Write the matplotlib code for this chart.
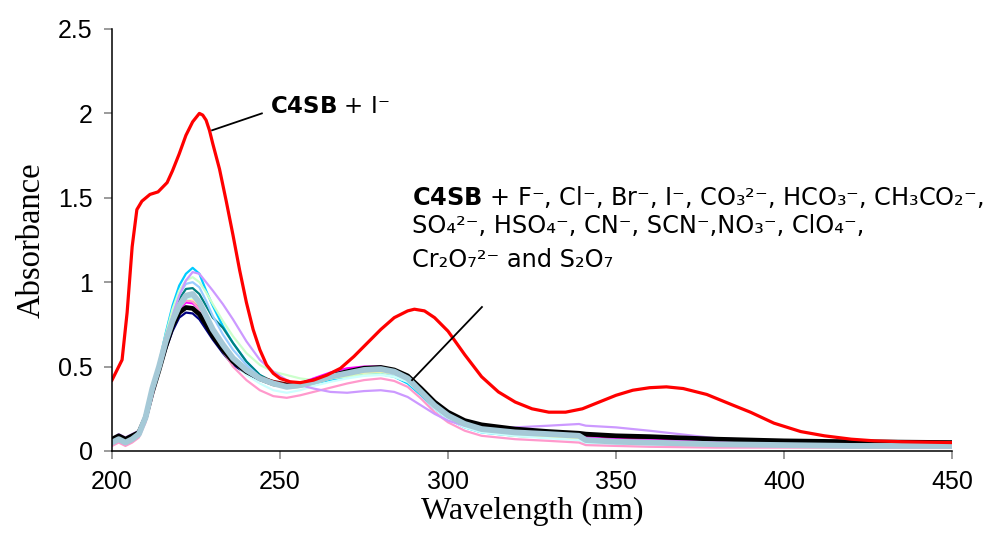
import matplotlib
matplotlib.use("Agg")
import matplotlib.pyplot as plt

plt.rcParams['mathtext.fontset'] = 'dejavusans'

# ---------------- data ----------------
wl_red = [200, 203, 204.5, 206, 207.4, 208.9, 211.3, 213.7, 216.4, 218, 220, 222, 224, 226,
          227, 228, 229, 230, 232, 234, 236, 238, 240, 242, 244, 246, 248, 250, 253, 256, 260, 264, 268,
          272, 276, 280, 284, 288, 290, 293, 296, 300, 305, 310, 315, 320, 325, 330, 335,
          340, 345, 350, 355, 360, 365, 370, 377, 385, 390, 397, 405, 412, 420, 427, 435, 444, 450]
abs_red = [0.42, 0.54, 0.82, 1.21, 1.43, 1.48, 1.52, 1.535, 1.59, 1.66, 1.76, 1.87, 1.95, 2.0,
           1.99, 1.96, 1.90, 1.82, 1.67, 1.48, 1.28, 1.07, 0.88, 0.72, 0.60, 0.51, 0.46, 0.43, 0.41, 0.405, 0.42, 0.45, 0.49,
           0.56, 0.64, 0.72, 0.79, 0.83, 0.84, 0.83, 0.79, 0.71, 0.57, 0.44, 0.35, 0.29, 0.25, 0.23, 0.23,
           0.25, 0.29, 0.33, 0.36, 0.375, 0.38, 0.37, 0.335, 0.27, 0.23, 0.165, 0.115, 0.09, 0.07, 0.06, 0.055, 0.052, 0.05]

wl = [200, 202, 204, 206, 208, 210, 212, 214, 216, 218, 220, 222, 224, 226, 228, 230, 233,
      236, 240, 244, 248, 252, 256, 260, 265, 270, 275, 280, 284, 288, 292, 296, 300, 305,
      310, 320, 330, 339, 341, 350, 360, 380, 400, 420, 450]

abs_navy = [0.06, 0.08, 0.06, 0.08, 0.10, 0.19, 0.34, 0.47, 0.60, 0.71, 0.79, 0.82, 0.815, 0.78, 0.72, 0.66, 0.58,
            0.51, 0.46, 0.42, 0.39, 0.38, 0.39, 0.41, 0.44, 0.465, 0.48, 0.485, 0.47, 0.435, 0.36, 0.28, 0.22, 0.17,
            0.14, 0.115, 0.10, 0.09, 0.07, 0.06, 0.055, 0.045, 0.04, 0.035, 0.035]
abs_cyan = [0.04, 0.06, 0.04, 0.06, 0.09, 0.19, 0.35, 0.52, 0.70, 0.86, 0.98, 1.05, 1.085, 1.05, 0.95, 0.86, 0.74,
            0.64, 0.53, 0.45, 0.40, 0.375, 0.38, 0.40, 0.42, 0.44, 0.45, 0.455, 0.44, 0.40, 0.33, 0.25, 0.19, 0.14,
            0.11, 0.09, 0.08, 0.07, 0.05, 0.045, 0.04, 0.035, 0.03, 0.025, 0.025]
abs_purple = [0.07, 0.10, 0.08, 0.10, 0.12, 0.20, 0.34, 0.49, 0.65, 0.80, 0.92, 1.01, 1.06, 1.05, 1.0, 0.95, 0.87,
              0.78, 0.65, 0.54, 0.47, 0.42, 0.39, 0.37, 0.35, 0.345, 0.355, 0.36, 0.35, 0.32, 0.27, 0.22, 0.18, 0.15,
              0.14, 0.14, 0.15, 0.16, 0.15, 0.14, 0.12, 0.075, 0.06, 0.05, 0.045]
abs_teal = [0.05, 0.07, 0.05, 0.07, 0.10, 0.20, 0.35, 0.50, 0.65, 0.79, 0.90, 0.96, 0.965, 0.93, 0.86, 0.79, 0.73,
            0.64, 0.53, 0.45, 0.41, 0.385, 0.39, 0.41, 0.44, 0.46, 0.475, 0.48, 0.465, 0.43, 0.35, 0.27, 0.21, 0.16,
            0.13, 0.11, 0.095, 0.085, 0.06, 0.05, 0.045, 0.04, 0.035, 0.03, 0.03]
abs_lightblue = [0.05, 0.07, 0.05, 0.07, 0.10, 0.20, 0.36, 0.52, 0.68, 0.82, 0.93, 0.99, 1.0, 0.97, 0.89, 0.80, 0.69,
                 0.60, 0.51, 0.44, 0.40, 0.38, 0.385, 0.40, 0.43, 0.45, 0.465, 0.47, 0.455, 0.42, 0.34, 0.26, 0.20, 0.15,
                 0.12, 0.10, 0.085, 0.075, 0.055, 0.045, 0.04, 0.035, 0.03, 0.025, 0.025]
abs_lightgreen = [0.05, 0.07, 0.05, 0.07, 0.10, 0.20, 0.36, 0.52, 0.69, 0.84, 0.95, 1.01, 1.03, 1.0, 0.94, 0.87, 0.77,
                  0.68, 0.58, 0.51, 0.47, 0.45, 0.43, 0.42, 0.43, 0.44, 0.45, 0.455, 0.44, 0.41, 0.34, 0.26, 0.20, 0.15,
                  0.12, 0.10, 0.085, 0.075, 0.055, 0.045, 0.04, 0.035, 0.03, 0.025, 0.025]
abs_pink = [0.03, 0.05, 0.03, 0.05, 0.08, 0.17, 0.32, 0.47, 0.62, 0.75, 0.85, 0.89, 0.885, 0.84, 0.77, 0.69, 0.59,
            0.50, 0.42, 0.36, 0.325, 0.315, 0.33, 0.35, 0.375, 0.40, 0.42, 0.43, 0.415, 0.38, 0.31, 0.23, 0.17, 0.12,
            0.09, 0.07, 0.06, 0.05, 0.035, 0.03, 0.025, 0.02, 0.02, 0.02, 0.02]
abs_maroon = [0.06, 0.08, 0.06, 0.08, 0.10, 0.20, 0.35, 0.50, 0.64, 0.77, 0.86, 0.89, 0.88, 0.85, 0.79, 0.72, 0.63,
              0.55, 0.48, 0.44, 0.415, 0.40, 0.40, 0.42, 0.45, 0.47, 0.485, 0.49, 0.475, 0.44, 0.36, 0.28, 0.22, 0.17,
              0.145, 0.12, 0.105, 0.095, 0.09, 0.08, 0.075, 0.065, 0.055, 0.05, 0.05]
abs_magenta = [0.06, 0.08, 0.06, 0.08, 0.10, 0.20, 0.35, 0.49, 0.63, 0.75, 0.84, 0.88, 0.875, 0.84, 0.78, 0.71, 0.62,
               0.54, 0.47, 0.43, 0.40, 0.39, 0.40, 0.43, 0.465, 0.49, 0.50, 0.50, 0.48, 0.44, 0.36, 0.28, 0.22, 0.17,
               0.14, 0.12, 0.10, 0.09, 0.08, 0.07, 0.065, 0.06, 0.055, 0.05, 0.05]
abs_yellow = [0.05, 0.07, 0.05, 0.07, 0.10, 0.19, 0.34, 0.49, 0.64, 0.77, 0.86, 0.90, 0.90, 0.86, 0.79, 0.71, 0.62,
              0.54, 0.47, 0.42, 0.39, 0.375, 0.38, 0.40, 0.43, 0.45, 0.465, 0.47, 0.46, 0.43, 0.36, 0.27, 0.20, 0.15,
              0.115, 0.09, 0.08, 0.07, 0.05, 0.04, 0.035, 0.03, 0.025, 0.02, 0.02]
abs_lightcyan = [0.04, 0.06, 0.04, 0.06, 0.09, 0.18, 0.33, 0.48, 0.63, 0.76, 0.85, 0.90, 0.91, 0.87, 0.80, 0.72, 0.62,
                 0.53, 0.45, 0.40, 0.36, 0.345, 0.36, 0.385, 0.41, 0.43, 0.445, 0.45, 0.44, 0.41, 0.34, 0.25, 0.19, 0.14,
                 0.11, 0.09, 0.075, 0.065, 0.045, 0.04, 0.035, 0.03, 0.025, 0.02, 0.02]
abs_black = [0.07, 0.09, 0.07, 0.09, 0.11, 0.20, 0.35, 0.48, 0.62, 0.74, 0.82, 0.85, 0.845, 0.81, 0.75, 0.68, 0.60,
             0.53, 0.47, 0.43, 0.40, 0.385, 0.395, 0.415, 0.445, 0.47, 0.49, 0.495, 0.48, 0.445, 0.37, 0.29, 0.23, 0.18,
             0.155, 0.13, 0.115, 0.105, 0.10, 0.09, 0.085, 0.07, 0.06, 0.055, 0.05]
abs_grayblue = [0.05, 0.07, 0.05, 0.07, 0.10, 0.20, 0.37, 0.50, 0.65, 0.77, 0.86, 0.92, 0.93, 0.88, 0.80, 0.72, 0.63,
                0.55, 0.48, 0.43, 0.40, 0.38, 0.39, 0.41, 0.44, 0.46, 0.48, 0.485, 0.47, 0.43, 0.35, 0.27, 0.21, 0.16,
                0.13, 0.11, 0.10, 0.09, 0.065, 0.055, 0.05, 0.04, 0.035, 0.03, 0.03]

thin_series = [
    (abs_navy, '#000080'), (abs_cyan, '#00CCFF'), (abs_teal, '#008080'),
    (abs_lightblue, '#99CCFF'), (abs_lightgreen, '#CCFFCC'), (abs_maroon, '#800000'),
    (abs_magenta, '#FF00FF'), (abs_yellow, '#FFFF99'), (abs_lightcyan, '#CCFFFF'),
    (abs_pink, '#FF99CC'), (abs_purple, '#CC99FF'),
]

xticks = [200, 250, 300, 350, 400, 450]
yticks = [0, 0.5, 1, 1.5, 2, 2.5]
ytick_labels = ['0', '0.5', '1', '1.5', '2', '2.5']

label_iodide = r'$\mathbf{C4SB}$ + I⁻'
label_anions = [
    r'$\mathbf{C4SB}$ + F⁻, Cl⁻, Br⁻, I⁻, CO₃²⁻, HCO₃⁻, CH₃CO₂⁻,',
    'SO₄²⁻, HSO₄⁻, CN⁻, SCN⁻,NO₃⁻, ClO₄⁻,',
    'Cr₂O₇²⁻ and S₂O₇',
]

# ---------------- figure ----------------
fig = plt.figure(figsize=(9.89, 5.42), dpi=100)
ax = fig.add_axes([112/989, 91/542, 840/989, 422/542])

for vals, col in thin_series:
    ax.plot(wl, vals, color=col, lw=1.6, solid_joinstyle='round')
ax.plot(wl, abs_black, color='black', lw=3.4, solid_joinstyle='round')
ax.plot(wl, abs_grayblue, color='#A5C9D7', lw=4.2, solid_joinstyle='round')
ax.plot(wl_red, abs_red, color='#FF0000', lw=2.3, solid_joinstyle='round')

ax.set_xlim(200, 450)
ax.set_ylim(0, 2.5)
ax.set_xticks(xticks)
ax.set_yticks(yticks)
ax.set_yticklabels(ytick_labels)
for s in ['top', 'right']:
    ax.spines[s].set_visible(False)
for s in ['left', 'bottom']:
    ax.spines[s].set_linewidth(1.1)
ax.tick_params(axis='both', direction='out', length=6, width=1.1, color='#808080',
               labelsize=18, pad=8)
for lab in ax.get_xticklabels() + ax.get_yticklabels():
    lab.set_fontfamily('Liberation Sans')

ax.set_xlabel('Wavelength (nm)', fontfamily='Liberation Serif', fontsize=23, labelpad=2)
ax.set_ylabel('Absorbance', fontfamily='Liberation Serif', fontsize=23.5, labelpad=8)

ann_font = dict(fontfamily='DejaVu Sans', fontsize=17.3, va='baseline', ha='left')
ax.plot([229.8, 244.6], [1.90, 2.0], color='black', lw=1.3)
ax.text(247, 2.0, label_iodide, fontfamily='DejaVu Sans', fontsize=16.5, va='baseline', ha='left')

ax.plot([289.3, 310.1], [0.42, 0.853], color='black', lw=1.3)
for txt, yv in zip(label_anions, [1.457, 1.29, 1.09]):
    ax.text(289.3, yv, txt, **ann_font)

fig.savefig('out.png', dpi=100)
